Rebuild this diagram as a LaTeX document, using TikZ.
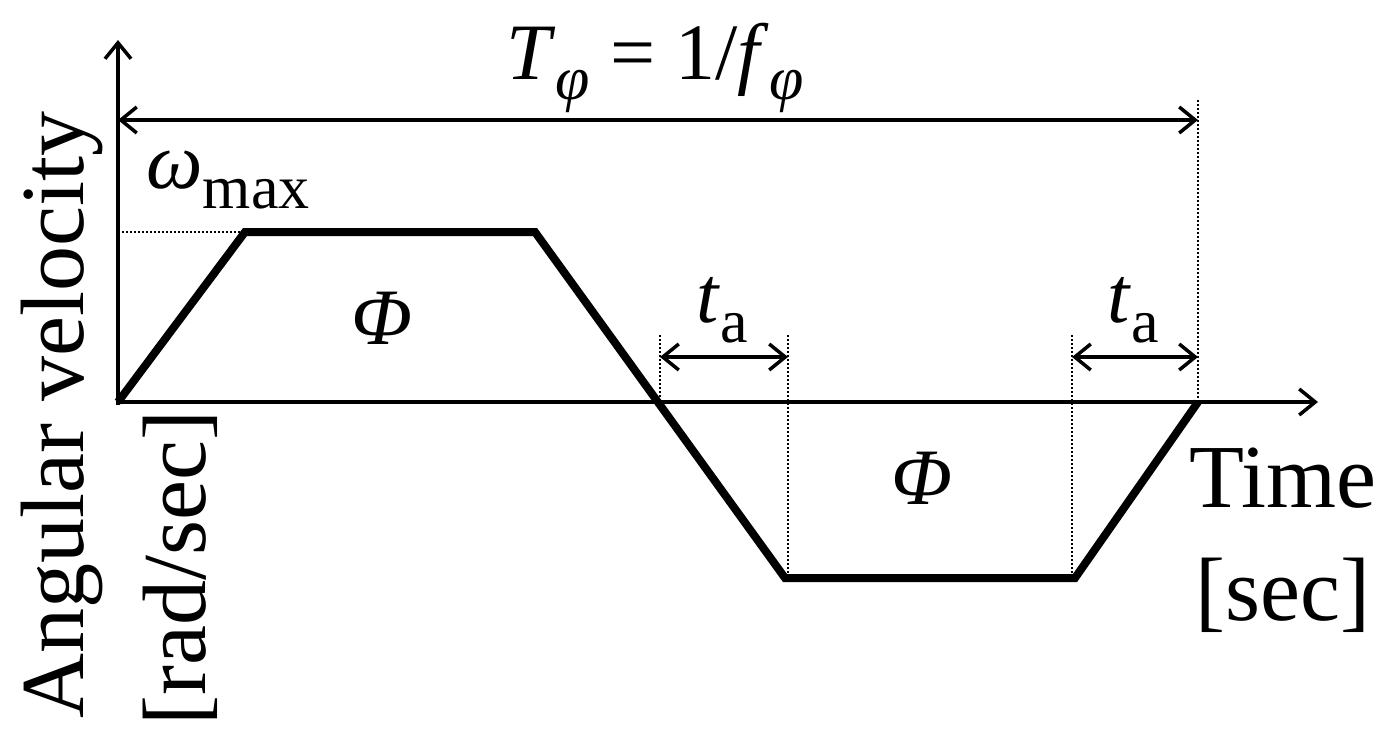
\documentclass[tikz,border=0pt]{standalone}
\usepackage{fontspec}
\setmainfont{Liberation Serif}
\usetikzlibrary{arrows.meta}
\newcommand{\subx}[1]{\raisebox{-0.25em}{\fontsize{62}{62}\selectfont #1}}
\begin{document}
\begin{tikzpicture}[x=1pt,y=-1pt,
  ax/.style={line width=3.5pt,-{Straight Barb[length=16pt,width=26pt,line width=3.5pt]}},
  dim/.style={line width=3.5pt,{Straight Barb[length=16pt,width=26pt,line width=3.5pt]}-{Straight Barb[length=16pt,width=26pt,line width=3.5pt]}},
  dot/.style={line width=2pt,dotted},
  big/.style={font=\fontsize{90}{92}\selectfont,inner sep=0pt}]
\useasboundingbox (0,0) rectangle (1397,742);
\coordinate (O) at (118,402);
\coordinate (Ytop) at (118,40);
\coordinate (Xend) at (1318,402);
\coordinate (A) at (245,232);
\coordinate (B) at (535,232);
\coordinate (C) at (785,578);
\coordinate (D) at (1075,578);
\coordinate (E) at (1198,402);
\draw[ax] (118,405) -- (Ytop);
\draw[ax] (O) -- (Xend);
\draw[line width=8pt,line join=miter] (O) -- (A) -- (B) -- (C) -- (D) -- (E);
\draw[dot] (O |- A) -- (A);
\coordinate (T1) at (118,120); \coordinate (T2) at (1198,120);
\draw[dim] (T1) -- (T2);
\draw[dot] (1198,100) -- (E);
\coordinate (a1) at (660,357); \coordinate (a2) at (788,357);
\coordinate (b1) at (1072,357); \coordinate (b2) at (1198,357);
\draw[dim] (a1) -- (a2);
\draw[dim] (b1) -- (b2);
\draw[dot] (660,335) -- (660,402);
\draw[dot] (788,335) -- (788,578);
\draw[dot] (1072,335) -- (1072,578);
\node[big,font=\fontsize{80}{82}\selectfont] (tp) at (655,68) {\textit{T}\subx{\textit{φ}} = 1/\textit{f}\subx{\textit{φ}}};
\node[big,font=\fontsize{80}{82}\selectfont] (wm) at (228,180) {\textit{ω}\subx{max}};
\node[big,font=\fontsize{80}{82}\selectfont] (p1) at (382,318) {\textit{Φ}};
\node[big,font=\fontsize{80}{82}\selectfont] (p2) at (922,478) {\textit{Φ}};
\node[big,font=\fontsize{80}{82}\selectfont] (ta1) at (722,310) {\textit{t}\subx{a}};
\node[big,font=\fontsize{80}{82}\selectfont] (ta2) at (1133,310) {\textit{t}\subx{a}};
\node[big] (tm) at (1283,478) {Time};
\node[big] (sc) at (1283,595) {[sec]};
\node[big,rotate=90] (av) at (62,415) {Angular velocity};
\node[big,rotate=90] (rs) at (180,568) {[rad/sec]};
\end{tikzpicture}
\end{document}
